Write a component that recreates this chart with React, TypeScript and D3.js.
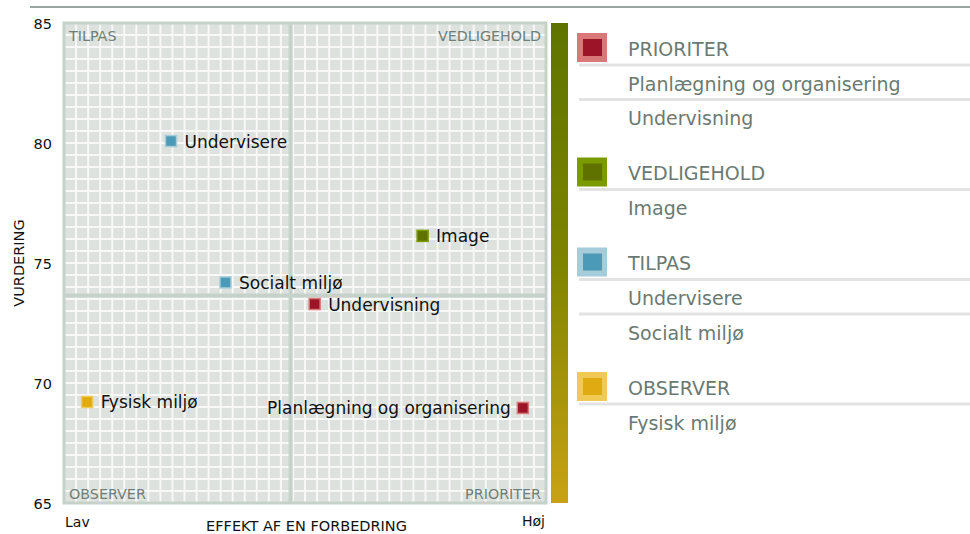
import React from "react";
import * as d3 from "d3";

const labels = ["Undervisere", "Socialt miljø", "Image", "Undervisning", "Fysisk miljø", "Planlægning og organisering"];
const effekt = [22.2, 33.5, 74.4, 52.0, 4.8, 95.2];
const vurdering = [80.08, 74.19, 76.13, 73.29, 69.21, 68.96];
const yTicks = [65, 70, 75, 80, 85];

const groupNames = ["PRIORITER", "VEDLIGEHOLD", "TILPAS", "OBSERVER"];
const groupDark = ["#9b1428", "#5f7200", "#4a9ab8", "#e0aa12"];
const groupLight = ["#d87878", "#7b9a00", "#a5ccd9", "#f1c955"];
const groupItems = [
  ["Planlægning og organisering", "Undervisning"],
  ["Image"],
  ["Undervisere", "Socialt miljø"],
  ["Fysisk miljø"],
];

const W = 970, H = 534;
const FONT = "'DejaVu Sans', Verdana, sans-serif";

export default function App() {
  const x0 = 64, x1 = 546, y0 = 23, y1 = 503;
  const x = d3.scaleLinear().domain([0, 100]).range([x0, x1]);
  const y = d3.scaleLinear().domain([65, 85]).range([y1, y0]);
  const gx = d3.scaleLinear().domain([0, 40]).range([x0, x1]);
  const gy = d3.scaleLinear().domain([0, 40]).range([y0, y1]);
  const mx = d3.mean(effekt) as number;
  const my = d3.mean(vurdering) as number;

  const quad = (i: number) => {
    const hx = effekt[i] >= mx, hy = vurdering[i] >= my;
    if (hx && !hy) return 0;
    if (hx && hy) return 1;
    if (!hx && hy) return 2;
    return 3;
  };

  const rowH = 34.5, gap = 21;
  let cy = 47.5;
  const legend = groupNames.map((g, gi) => {
    const start = cy;
    cy += rowH * (groupItems[gi].length + 1) + gap;
    return { g, gi, start };
  });

  return (
    <svg width={W} height={H} style={{ position: "absolute", left: 0, top: 0, fontFamily: FONT }}>
      <defs>
        <linearGradient id="bar" x1="0" y1="0" x2="0" y2="1">
          <stop offset="0" stopColor="#5e7400" />
          <stop offset="0.5" stopColor="#7e8400" />
          <stop offset="1" stopColor="#c9a214" />
        </linearGradient>
      </defs>
      <line x1={30} x2={W} y1={7} y2={7} stroke="#7a8880" strokeWidth={1.5} />
      <rect x={x0} y={y0} width={x1 - x0} height={y1 - y0} fill="#dde2df" />
      {d3.range(1, 40).map((i) => (
        <line key={"gx" + i} x1={gx(i)} x2={gx(i)} y1={y0} y2={y1} stroke="#f7f8f7" strokeWidth={2} />
      ))}
      {d3.range(1, 40).map((i) => (
        <line key={"gy" + i} y1={gy(i)} y2={gy(i)} x1={x0} x2={x1} stroke="#f7f8f7" strokeWidth={2} />
      ))}
      <line x1={x(mx)} x2={x(mx)} y1={y0} y2={y1} stroke="#c6d2c9" strokeWidth={4} />
      <line y1={y(my)} y2={y(my)} x1={x0} x2={x1} stroke="#c6d2c9" strokeWidth={4} />
      <rect x={x0} y={y0} width={x1 - x0} height={y1 - y0} fill="none" stroke="#c6d2c9" strokeWidth={3} />
      <g fontSize={14.3} fill="#6f7e76">
        <text x={x0 + 5} y={y0 + 18}>TILPAS</text>
        <text x={x1 - 5} y={y0 + 18} textAnchor="end">VEDLIGEHOLD</text>
        <text x={x0 + 5} y={y1 - 4}>OBSERVER</text>
        <text x={x1 - 5} y={y1 - 4} textAnchor="end">PRIORITER</text>
      </g>
      {labels.map((l, i) => {
        const q = quad(i);
        const px = x(effekt[i]), py = y(vurdering[i]);
        const right = px < x1 - 60;
        return (
          <g key={l}>
            <rect x={px - 5.5} y={py - 5.5} width={11} height={11} fill={groupDark[q]} stroke={groupLight[q]} strokeWidth={1.5} />
            <text x={right ? px + 13.5 : px - 12} y={py + 6.5} fontSize={17} fill="#111" textAnchor={right ? "start" : "end"}>{l}</text>
          </g>
        );
      })}
      {yTicks.map((t) => (
        <text key={t} x={52} y={y(t) + 6} fontSize={14.5} textAnchor="end" fill="#111">{t}</text>
      ))}
      <text transform={`translate(24,263) rotate(-90)`} fontSize={14.5} textAnchor="middle" fill="#111">VURDERING</text>
      <text x={65} y={527} fontSize={14} fill="#111">Lav</text>
      <text x={545} y={526} fontSize={14} textAnchor="end" fill="#111">Høj</text>
      <text x={306.5} y={530.5} fontSize={14.5} textAnchor="middle" fill="#111">EFFEKT AF EN FORBEDRING</text>
      <rect x={551} y={y0} width={17} height={y1 - y0} fill="url(#bar)" />
      {legend.map(({ g, gi, start }) => (
        <g key={g}>
          <rect x={577} y={start - 14.5} width={30} height={29} fill={groupLight[gi]} />
          <rect x={583} y={start - 8.5} width={19} height={17} fill={groupDark[gi]} />
          <text x={628} y={start + 8} fontSize={19} fill="#6a7a72">{g}</text>
          {groupItems[gi].map((it, k) => {
            const c = start + rowH * (k + 1);
            return (
              <g key={it}>
                <line x1={579} x2={W} y1={c - 17} y2={c - 17} stroke="#e3e3e3" strokeWidth={3} />
                <text x={628} y={c + 8.5} fontSize={19} fill="#6a7a72">{it}</text>
              </g>
            );
          })}
        </g>
      ))}
    </svg>
  );
}
